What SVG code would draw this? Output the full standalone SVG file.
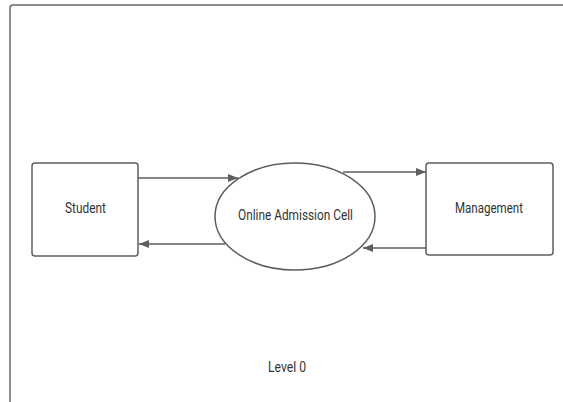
<svg xmlns="http://www.w3.org/2000/svg" width="563" height="402" viewBox="0 0 563 402">
<defs>
<style>
.frame{fill:#fff;stroke:#6a6a6a;stroke-width:1.5}
.node{fill:#fff;stroke:#5e5e5e;stroke-width:1.5}
.edge{fill:none;stroke:#5e5e5e;stroke-width:1.3}
.lbl{font-family:Roboto,"Liberation Sans",sans-serif;font-size:14px;fill:#333;text-anchor:middle}
</style>
<marker id="ah" viewBox="0 0 10 10" refX="10" refY="5" markerWidth="10" markerHeight="10" markerUnits="userSpaceOnUse" orient="auto">
<path d="M0,1 L10,5 L0,9 Z" fill="#5e5e5e"/>
</marker>
</defs>
<rect width="563" height="402" fill="#fff"/>
<rect class="frame" x="10" y="5" width="570" height="420" rx="3"/>
<g id="connectors">
<line class="edge" x1="138" y1="178" x2="238" y2="178" marker-end="url(#ah)"/>
<line class="edge" x1="225" y1="244" x2="139" y2="244" marker-end="url(#ah)"/>
<line class="edge" x1="343" y1="172" x2="426" y2="172" marker-end="url(#ah)"/>
<line class="edge" x1="426" y1="248" x2="363" y2="248" marker-end="url(#ah)"/>
</g>
<g id="student">
<rect class="node" x="32" y="163" width="106" height="93" rx="3"/>
<text class="lbl" x="85.5" y="213" textLength="41" lengthAdjust="spacingAndGlyphs">Student</text>
</g>
<g id="cell">
<ellipse class="node" cx="295" cy="216.5" rx="80" ry="53.5"/>
<text class="lbl" x="295.5" y="220" textLength="115" lengthAdjust="spacingAndGlyphs">Online Admission Cell</text>
</g>
<g id="management">
<rect class="node" x="426" y="163" width="127" height="92" rx="3"/>
<text class="lbl" x="489" y="213" textLength="68" lengthAdjust="spacingAndGlyphs">Management</text>
</g>
<g id="level">
<text class="lbl" x="287" y="372" textLength="38" lengthAdjust="spacingAndGlyphs">Level 0</text>
</g>
</svg>
